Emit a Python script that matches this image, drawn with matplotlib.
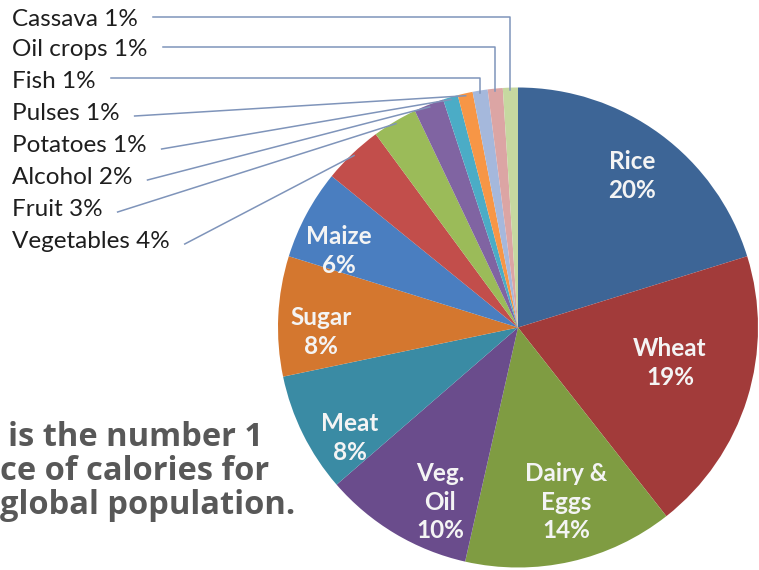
import numpy as np
import matplotlib.pyplot as plt

# ================================================
# DATA: share of global calorie supply by food group
# ================================================
foods = ["Rice", "Wheat", "Dairy & Eggs", "Veg. Oil", "Meat", "Sugar", "Maize",
         "Vegetables", "Fruit", "Alcohol", "Potatoes", "Pulses", "Fish",
         "Oil crops", "Cassava"]
shares = [20, 19, 14, 10, 8, 8, 6, 4, 3, 2, 1, 1, 1, 1, 1]
colors = ["#3d6596", "#a23b3a", "#7f9c42", "#6a4c8c", "#3a8ba4", "#d4772f",
          "#4a7ec0", "#c24e4b", "#9bbb59", "#8064a2", "#4bacc6", "#f79646",
          "#a5b8dc", "#dca5a4", "#c6d8a0"]

# how the big slices are wrapped inside the pie
wrapped = {"Dairy & Eggs": "Dairy &\nEggs", "Veg. Oil": "Veg.\nOil"}
inside_pos = {  # text centre in canvas pixels (x, y from top)
    "Rice": (632, 176), "Wheat": (670, 363), "Dairy & Eggs": (566, 502),
    "Veg. Oil": (440, 502), "Meat": (350, 438), "Sugar": (321, 332),
    "Maize": (339, 251),
}
# small slices are labelled on the left, one row each
outside_y = {"Cassava": 20, "Oil crops": 50, "Fish": 81, "Pulses": 113,
             "Potatoes": 146, "Alcohol": 177, "Fruit": 209, "Vegetables": 241}
elbow = ["Cassava", "Oil crops", "Fish"]

caption = ["is the number 1", "ce of calories for", "global population."]

W, H = 759, 570
CX, CY, R = 518, 327.5, 240


def fy(y):
    # canvas y measured from the top -> data y
    return H - y


fig = plt.figure(figsize=(W / 100, H / 100), dpi=100)
ax = fig.add_axes([0, 0, 1, 1])

wedges, _ = ax.pie(shares, colors=colors, startangle=90, counterclock=False,
                   center=(CX, fy(CY)), radius=R,
                   wedgeprops=dict(linewidth=0))
ax.set_xlim(0, W)
ax.set_ylim(0, H)
ax.axis("off")

label_font = "Lato"
for name, share in zip(foods, shares):
    if name in inside_pos:
        x, y = inside_pos[name]
        ax.text(x, fy(y), f"{wrapped.get(name, name)}\n{share}%",
                ha="center", va="center", color="#f4f4f4", fontsize=17.5,
                fontweight="bold", family=label_font, linespacing=1.28)

renderer = fig.canvas.get_renderer()
line_col = "#7f94ba"
for name, share, w in zip(foods, shares, wedges):
    if name not in outside_y:
        continue
    y = outside_y[name]
    t = ax.text(12, fy(y), f"{name} {share}%", ha="left", va="center",
                color="#1e1e1e", fontsize=17.5, family=label_font)
    x0 = t.get_window_extent(renderer).x1 + 15
    mid = np.deg2rad((w.theta1 + w.theta2) / 2)
    if name in elbow:
        xe = CX + R * np.cos(mid)
        ye = fy(CY) + R * np.sin(mid) - 2
        ly = fy(y - 3)
        ax.plot([x0, xe, xe], [ly, ly, ye], color=line_col, lw=1.1)
    else:
        xe = CX + R * 0.99 * np.cos(mid)
        ye = fy(CY) + R * 0.99 * np.sin(mid)
        ax.plot([x0, xe], [fy(y + 3), ye], color=line_col, lw=1.1)

for i, line in enumerate(caption):
    ax.text([8, 0, 0][i], fy(446 + 34 * i), line, ha="left", va="baseline",
            color="#585858", fontsize=23.5, fontweight="bold",
            family="Open Sans")

fig.savefig("out.png", dpi=100)
